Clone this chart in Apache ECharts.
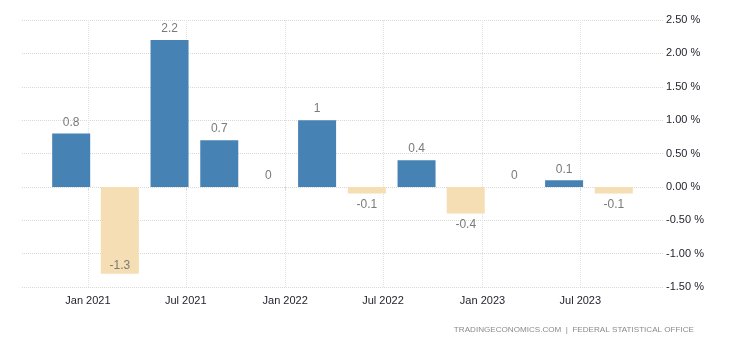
<!DOCTYPE html>
<html>
<head>
<meta charset="utf-8">
<script src="https://cdn.jsdelivr.net/npm/echarts@6/dist/echarts.min.js"></script>
<style>
  html, body { margin: 0; padding: 0; background: #ffffff; }
  #chart { width: 740px; height: 345px; }
</style>
</head>
<body>
<div id="chart"></div>
<script>
// Quarterly GDP growth rate (%), each bar placed at the last month of its quarter
const quarterDates = [
  '2020-12-01', '2021-03-01', '2021-06-01', '2021-09-01',
  '2021-12-01', '2022-03-01', '2022-06-01', '2022-09-01',
  '2022-12-01', '2023-03-01', '2023-06-01', '2023-09-01'
];
const growthValues = [0.8, -1.3, 2.2, 0.7, 0, 1, -0.1, 0.4, -0.4, 0, 0.1, -0.1];

// Half-year tick positions along the date axis
const tickDates = ['2021-01-01', '2021-07-01', '2022-01-01', '2022-07-01', '2023-01-01', '2023-07-01'];
const monthNames = ['Jan', 'Feb', 'Mar', 'Apr', 'May', 'Jun', 'Jul', 'Aug', 'Sep', 'Oct', 'Nov', 'Dec'];

const yTicks = { min: -1.5, max: 2.5, interval: 0.5 };

const POS = '#4682b4';
const NEG = '#f5deb3';
const FONT = '"Liberation Sans", Arial, sans-serif';

const ts = s => new Date(s + 'T00:00:00Z').getTime();
const tickValues = tickDates.map(ts);

const barData = quarterDates.map((d, i) => {
  const v = growthValues[i];
  const item = {
    value: [ts(d), v],
    itemStyle: { color: v < 0 ? NEG : POS }
  };
  if (v < 0) {
    // deep negative bars keep their label inside the plot area
    item.label = v <= -1 ? { position: 'insideBottom', distance: 2 } : { position: 'bottom', distance: 5 };
  }
  return item;
});

const chart = echarts.init(document.getElementById('chart'), null, { renderer: 'canvas' });

chart.setOption({
  animation: false,
  backgroundColor: '#ffffff',
  grid: { left: 22, right: 77, top: 20, bottom: 58, containLabel: false },
  xAxis: {
    type: 'value',
    min: ts('2020-09-01'),
    max: ts('2023-12-01'),
    axisLine: { show: false },
    axisTick: {
      show: true,
      length: 4,
      customValues: tickValues,
      lineStyle: { color: '#dcdcdc' }
    },
    axisLabel: {
      customValues: tickValues,
      fontFamily: FONT,
      fontSize: 11,
      color: '#24242f',
      margin: 8,
      formatter: v => {
        const d = new Date(v);
        return monthNames[d.getUTCMonth()] + ' ' + d.getUTCFullYear();
      }
    },
    splitLine: {
      show: true,
      lineStyle: { color: '#e2e2e2', type: [1, 1], width: 1 }
    }
  },
  yAxis: {
    type: 'value',
    position: 'right',
    min: yTicks.min,
    max: yTicks.max,
    interval: yTicks.interval,
    axisLine: { show: false },
    axisTick: { show: false },
    axisLabel: {
      fontFamily: FONT,
      fontSize: 11,
      color: '#24242f',
      margin: 3,
      formatter: v => v.toFixed(2) + ' %'
    },
    splitLine: {
      show: true,
      lineStyle: { color: '#d8d8d8', type: [1, 1], width: 1 }
    }
  },
  series: [{
    type: 'bar',
    barWidth: 38,
    data: barData,
    label: {
      show: true,
      position: 'top',
      distance: 5,
      fontFamily: FONT,
      fontSize: 12,
      color: '#7a7a7a',
      formatter: p => String(p.value[1])
    }
  }],
  graphic: [{
    type: 'text',
    right: 46,
    top: 326,
    style: {
      text: 'TRADINGECONOMICS.COM  |  FEDERAL STATISTICAL OFFICE',
      fontFamily: FONT,
      fontSize: 8.1,
      fill: '#8a8a8a'
    }
  }]
});
</script>
</body>
</html>
